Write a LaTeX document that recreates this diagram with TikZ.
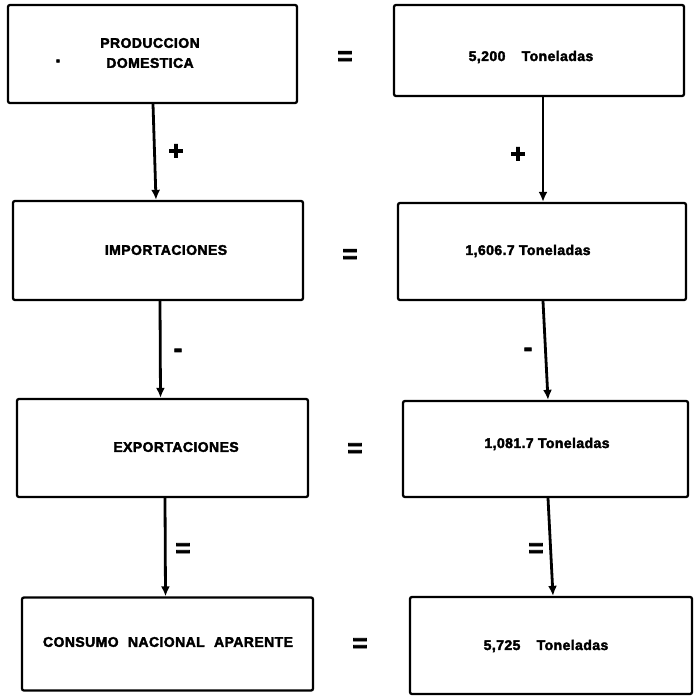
\documentclass[tikz,border=0pt]{standalone}
\usepackage{fontspec}
\setmainfont{Liberation Sans}
\newfontfamily\heavyfont[FakeBold=2.5,LetterSpace=3]{Liberation Sans Bold}
\newfontfamily\signfont[FakeBold=3]{Liberation Sans Bold}
\usetikzlibrary{arrows.meta}
\begin{document}
\begin{tikzpicture}[x=1pt,y=-1pt,
  box/.style={draw, line width=2.3pt, rounded corners=2pt, rectangle, inner sep=0pt},
  flow/.style={line width=2.8pt, -{Latex[length=10pt,width=9pt]}},
  sign/.style={inner sep=0pt, font=\fontsize{26}{26}\signfont},
  lbl/.style={inner sep=0pt, align=center, font=\fontsize{14}{20}\heavyfont}]
\useasboundingbox (0,0) rectangle (696,696);
% left boxes
\node[box, minimum width=289, minimum height=98] (L1) at (152.5,54) {};
\node[box, minimum width=290, minimum height=99] (L2) at (158,250.5) {};
\node[box, minimum width=291, minimum height=98] (L3) at (162.5,448) {};
\node[box, minimum width=291, minimum height=93] (L4) at (167.5,644) {};
% right boxes
\node[box, minimum width=290, minimum height=91] (R1) at (539,50.5) {};
\node[box, minimum width=288, minimum height=97] (R2) at (542,251.5) {};
\node[box, minimum width=285, minimum height=96] (R3) at (545.5,449) {};
\node[box, minimum width=282, minimum height=97] (R4) at (551,645.5) {};
% labels
\node[lbl] (t1) at (150,53) {PRODUCCION\\DOMESTICA};
\node[inner sep=0pt, font=\fontsize{18}{18}\signfont] (dot) at (58,61) {.};
\node[lbl] (t2) at (166,250) {IMPORTACIONES};
\node[lbl] (t3) at (176,447) {EXPORTACIONES};
\node[lbl] (t4) at (168,642) {CONSUMO\hspace{5pt} NACIONAL\hspace{5pt} APARENTE};
\node[lbl] (v1) at (531,57) {5,200\hspace{12pt} Toneladas};
\node[lbl] (v2) at (528,251) {1,606.7 Toneladas};
\node[lbl] (v3) at (547,444) {1,081.7 Toneladas};
\node[lbl] (v4) at (546,646) {5,725\hspace{12pt} Toneladas};
% arrows
\draw[flow] ([xshift=0.5pt]L1.south) -- ([xshift=-2pt]L2.north);
\draw[flow] ([xshift=2pt]L2.south) -- ([xshift=-2pt]L3.north);
\draw[flow] ([xshift=2.5pt]L3.south) -- ([xshift=-2pt]L4.north);
\draw[flow] ([xshift=4pt]R1.south) -- ([xshift=1pt]R2.north);
\draw[flow] ([xshift=1pt]R2.south) -- ([xshift=2.5pt]R3.north);
\draw[flow] ([xshift=2.5pt]R3.south) -- ([xshift=2pt]R4.north);
% operator signs
\node[sign] (pl) at (176,152) {+};
\node[sign] (ml) at (178,353) {-};
\node[sign] (el) at (183,550) {=};
\node[sign] (pr) at (518,155) {+};
\node[sign] (mr) at (528,352) {-};
\node[sign] (er) at (536,550) {=};
\node[sign] (e1) at (345,58) {=};
\node[sign] (e2) at (350,256) {=};
\node[sign] (e3) at (355,450) {=};
\node[sign] (e4) at (360,645) {=};
\end{tikzpicture}
\end{document}
